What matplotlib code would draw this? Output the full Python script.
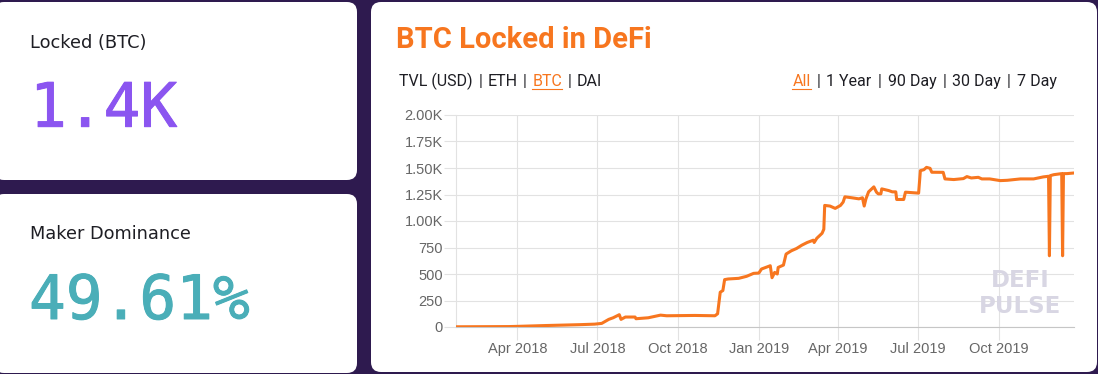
import matplotlib
matplotlib.use("Agg")
import matplotlib.pyplot as plt
import matplotlib.dates as mdates
import matplotlib.patheffects as pe
import pandas as pd
from matplotlib.patches import FancyBboxPatch

# series (BTC locked, daily-ish samples)
dates = [
    "2018-01-21", "2018-02-20", "2018-03-22", "2018-04-01", "2018-05-04",
    "2018-06-11", "2018-06-28", "2018-07-06", "2018-07-14", "2018-07-19",
    "2018-07-26", "2018-07-28", "2018-08-02", "2018-08-13", "2018-08-14",
    "2018-08-28", "2018-09-11", "2018-09-18", "2018-10-20", "2018-11-12",
    "2018-11-15", "2018-11-18", "2018-11-21", "2018-11-23", "2018-11-27",
    "2018-12-09", "2018-12-18", "2018-12-26", "2019-01-01", "2019-01-04",
    "2019-01-14", "2019-01-16", "2019-01-19", "2019-01-22", "2019-01-23",
    "2019-01-29", "2019-02-01", "2019-02-07", "2019-02-13", "2019-02-19",
    "2019-02-25", "2019-03-04", "2019-03-05", "2019-03-08", "2019-03-14",
    "2019-03-16", "2019-03-17", "2019-03-23", "2019-03-29", "2019-04-04",
    "2019-04-07", "2019-04-09", "2019-04-17", "2019-04-25", "2019-04-29",
    "2019-05-01", "2019-05-03", "2019-05-06", "2019-05-12", "2019-05-15",
    "2019-05-17", "2019-05-20", "2019-05-21", "2019-05-29", "2019-06-02",
    "2019-06-06", "2019-06-07", "2019-06-15", "2019-06-17", "2019-07-02",
    "2019-07-04", "2019-07-08", "2019-07-11", "2019-07-15", "2019-07-17",
    "2019-07-30", "2019-08-01", "2019-08-11", "2019-08-22", "2019-08-26",
    "2019-08-31", "2019-09-08", "2019-09-12", "2019-09-21", "2019-10-03",
    "2019-10-11", "2019-10-26", "2019-11-10", "2019-11-21", "2019-11-27",
    "2019-11-28", "2019-11-29", "2019-12-03", "2019-12-12", "2019-12-13",
    "2019-12-14", "2019-12-18", "2019-12-26",
]
btc_locked = [
    2, 3, 4, 6, 14,
    22, 27, 34, 72, 87,
    116, 72, 94, 94, 78,
    87, 112, 106, 109, 106,
    125, 328, 344, 447, 453,
    459, 478, 506, 509, 547,
    578, 465, 515, 500, 562,
    584, 688, 719, 741, 772,
    797, 819, 797, 837, 884,
    922, 1147, 1141, 1119, 1147,
    1178, 1228, 1219, 1209, 1219,
    1141, 1209, 1275, 1322, 1272,
    1256, 1256, 1303, 1287, 1275,
    1275, 1203, 1203, 1272, 1263,
    1475, 1484, 1506, 1497, 1460,
    1459, 1397, 1391, 1400, 1419,
    1406, 1412, 1397, 1397, 1381,
    1384, 1397, 1397, 1416, 1422,
    672, 1428, 1437, 1447, 672,
    1447, 1447, 1453,
]

x_range = ["2018-01-21", "2019-12-26"]
ytick_vals = [0, 250, 500, 750, 1000, 1250, 1500, 1750, 2000]
ytick_labels = ["0", "250", "500", "750", "1.00K", "1.25K", "1.50K", "1.75K", "2.00K"]

card_titles = ["Locked (BTC)", "Maker Dominance"]
card_values = ["1.4K", "49.61%"]
left_tabs = ["TVL (USD)", "ETH", "BTC", "DAI"]
right_tabs = ["All", "1 Year", "90 Day", "30 Day", "7 Day"]

BG = "#2e1a4f"
ORANGE = "#f7761f"
GRID = "#e2e2e2"
DARK = "#1e1e24"

W, H = 1098, 374
fig = plt.figure(figsize=(W / 100, H / 100), dpi=100, facecolor=BG)

# full-figure axes in pixel units for the cards and the text
bg = fig.add_axes([0, 0, 1, 1], zorder=0)
bg.set_xlim(0, W)
bg.set_ylim(H, 0)
bg.axis("off")


def card(x0, y0, x1, y1):
    bg.add_patch(FancyBboxPatch((x0, y0), x1 - x0, y1 - y0,
                                boxstyle="round,pad=0,rounding_size=10",
                                fc="white", ec="none"))


card(-6, 2, 357, 180)
card(-6, 194, 357, 373)
card(371, 2, 1097, 372)

bg.text(30, 48.3, card_titles[0], family="DejaVu Sans", fontsize=12.8, color=DARK, va="baseline")
bg.text(30, 126.7, card_values[0], family="DejaVu Sans Mono", fontsize=44, color="#8b55f0", va="baseline",
        path_effects=[pe.withStroke(linewidth=0.7, foreground="#8b55f0")])
bg.text(30, 239.3, card_titles[1], family="DejaVu Sans", fontsize=12.8, color=DARK, va="baseline")
bg.text(29, 319, card_values[1], family="DejaVu Sans Mono", fontsize=44, color="#4aaeb8", va="baseline",
        path_effects=[pe.withStroke(linewidth=0.7, foreground="#4aaeb8")])

bg.text(396, 48.3, "BTC Locked in DeFi", family="Roboto", fontweight="bold",
        fontsize=21, color=ORANGE, va="baseline")

r = fig.canvas.get_renderer()


def tab_row(x, y, items, active, right=False, gap=6):
    texts = []
    for i, s in enumerate(items):
        if i:
            texts.append(bg.text(0, y, "|", family="Roboto", fontsize=11.5, color=DARK, va="baseline"))
        texts.append(bg.text(0, y, s, family="Roboto", fontsize=11.5,
                             color=ORANGE if s == active else DARK, va="baseline"))
    widths = [t.get_window_extent(renderer=r).width for t in texts]
    total = sum(widths) + gap * (len(texts) - 1)
    cur = x - total if right else x
    for t, w in zip(texts, widths):
        t.set_x(cur)
        if t.get_text() == active:
            bg.plot([cur, cur + w], [y + 2.5, y + 2.5], color=ORANGE, lw=0.8)
        cur += w + gap


tab_row(399, 86, left_tabs, "BTC", gap=5.5)
tab_row(1057, 86, right_tabs, "All", right=True)

# the chart itself
ax = fig.add_axes([456 / W, 1 - 327 / H, 618 / W, 212 / H], zorder=2)
ax.patch.set_alpha(0)
ax.plot(pd.to_datetime(dates), btc_locked, color=ORANGE, lw=2.2, zorder=3)
ax.set_xlim(pd.Timestamp(x_range[0]), pd.Timestamp(x_range[1]))
ax.set_ylim(0, 2000)
ax.set_yticks(ytick_vals)
ax.set_yticklabels(ytick_labels)
ax.xaxis.set_major_locator(mdates.MonthLocator(bymonth=[1, 4, 7, 10]))
ax.xaxis.set_major_formatter(mdates.DateFormatter("%b %Y"))
ax.grid(True, color=GRID, lw=0.8)
ax.set_axisbelow(True)
for s in ["top", "right"]:
    ax.spines[s].set_visible(False)
ax.spines["left"].set_color(GRID)
ax.spines["bottom"].set_color("#c6c6c6")
ax.tick_params(axis="x", length=9, width=0.8, color=GRID, pad=1.5, labelsize=10.5, labelcolor="#666666")
ax.tick_params(axis="y", length=8.5, width=0.8, color=GRID, pad=0.8, labelsize=10.5, labelcolor="#666666")
for lab in ax.get_xticklabels() + ax.get_yticklabels():
    lab.set_family("Liberation Sans")

ax.text(0.913, 0.19, "DEFI", transform=ax.transAxes, ha="center", va="baseline",
        family="DejaVu Sans", fontweight="bold", fontsize=16.5, color="#d8d6e3", zorder=1)
ax.text(0.913, 0.0675, "PULSE", transform=ax.transAxes, ha="center", va="baseline",
        family="DejaVu Sans", fontweight="bold", fontsize=16.5, color="#d8d6e3", zorder=1)

fig.savefig("out.png", dpi=100, facecolor=BG)
